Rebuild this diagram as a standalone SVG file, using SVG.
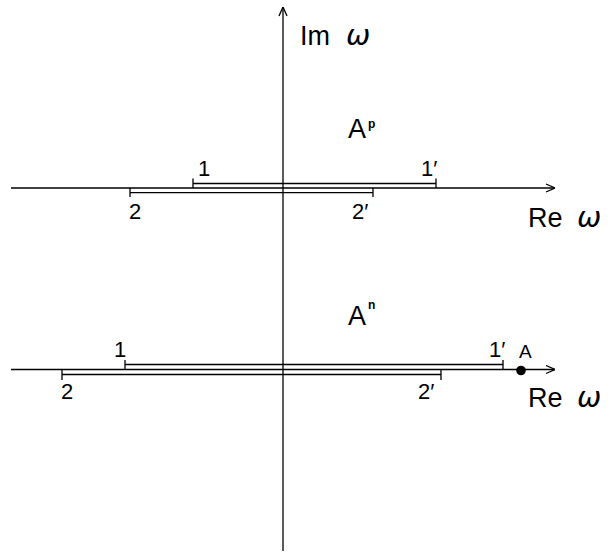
<svg xmlns="http://www.w3.org/2000/svg" width="615" height="552" viewBox="0 0 615 552">
<style>
.ax{stroke:#000;stroke-width:1.3;fill:none}
.sg{stroke:#000;stroke-width:1.3;fill:none}
.t{font-family:"Liberation Sans",Arial,sans-serif;fill:#000}
.big{font-size:27px}
.num{font-size:22px}
.w{font-family:"DejaVu Sans",sans-serif;font-style:italic;font-size:29px}
.sup{font-size:12px;font-weight:bold}
</style>
<defs>
<marker id="arr" viewBox="0 0 10 10" refX="10" refY="5" markerWidth="10" markerHeight="10" markerUnits="userSpaceOnUse" orient="auto">
<path d="M1,1 L10,5 L1,9" fill="none" stroke="#000" stroke-width="1.3"/>
</marker>
</defs>
<g id="connectors">
<line class="ax" x1="283" y1="551" x2="283" y2="7" marker-end="url(#arr)"/>
<line class="ax" x1="11" y1="188" x2="555" y2="188" marker-end="url(#arr)"/>
<line class="ax" x1="11" y1="369.5" x2="555" y2="369.5" marker-end="url(#arr)"/>
</g>
<g id="upper-segments">
<path class="sg" d="M193,178.5 V188 M193,183.5 H436 M436,178.5 V188"/>
<path class="sg" d="M130,188 V197 M130,192.7 H373 M373,188 V197"/>
</g>
<g id="lower-segments">
<path class="sg" d="M125,360 V369.5 M125,364.5 H503 M503,360 V369.5"/>
<path class="sg" d="M62,369.5 V380 M62,374.5 H441 M441,369.5 V380"/>
</g>
<g id="point-A">
<circle cx="521" cy="370.5" r="4.8" fill="#000"/>
<text class="t" x="519" y="358" font-size="19">A</text>
</g>
<g id="labels">
<text class="t big" x="300" y="45">Im<tspan class="w" x="346">ω</tspan></text>
<text class="t big" x="528" y="227">Re<tspan class="w" x="577">ω</tspan></text>
<text class="t big" x="528" y="407">Re<tspan class="w" x="577">ω</tspan></text>
<text class="t big" x="348" y="138">A<tspan class="sup" x="368" y="128">p</tspan></text>
<text class="t big" x="348" y="325">A<tspan class="sup" x="368" y="309">n</tspan></text>
<text class="t num" x="198" y="176">1</text>
<text class="t num" x="421" y="176">1′</text>
<text class="t num" x="129" y="219">2</text>
<text class="t num" x="352" y="219">2′</text>
<text class="t num" x="114" y="357">1</text>
<text class="t num" x="489" y="357">1′</text>
<text class="t num" x="61" y="399">2</text>
<text class="t num" x="418" y="399">2′</text>
</g>
</svg>
